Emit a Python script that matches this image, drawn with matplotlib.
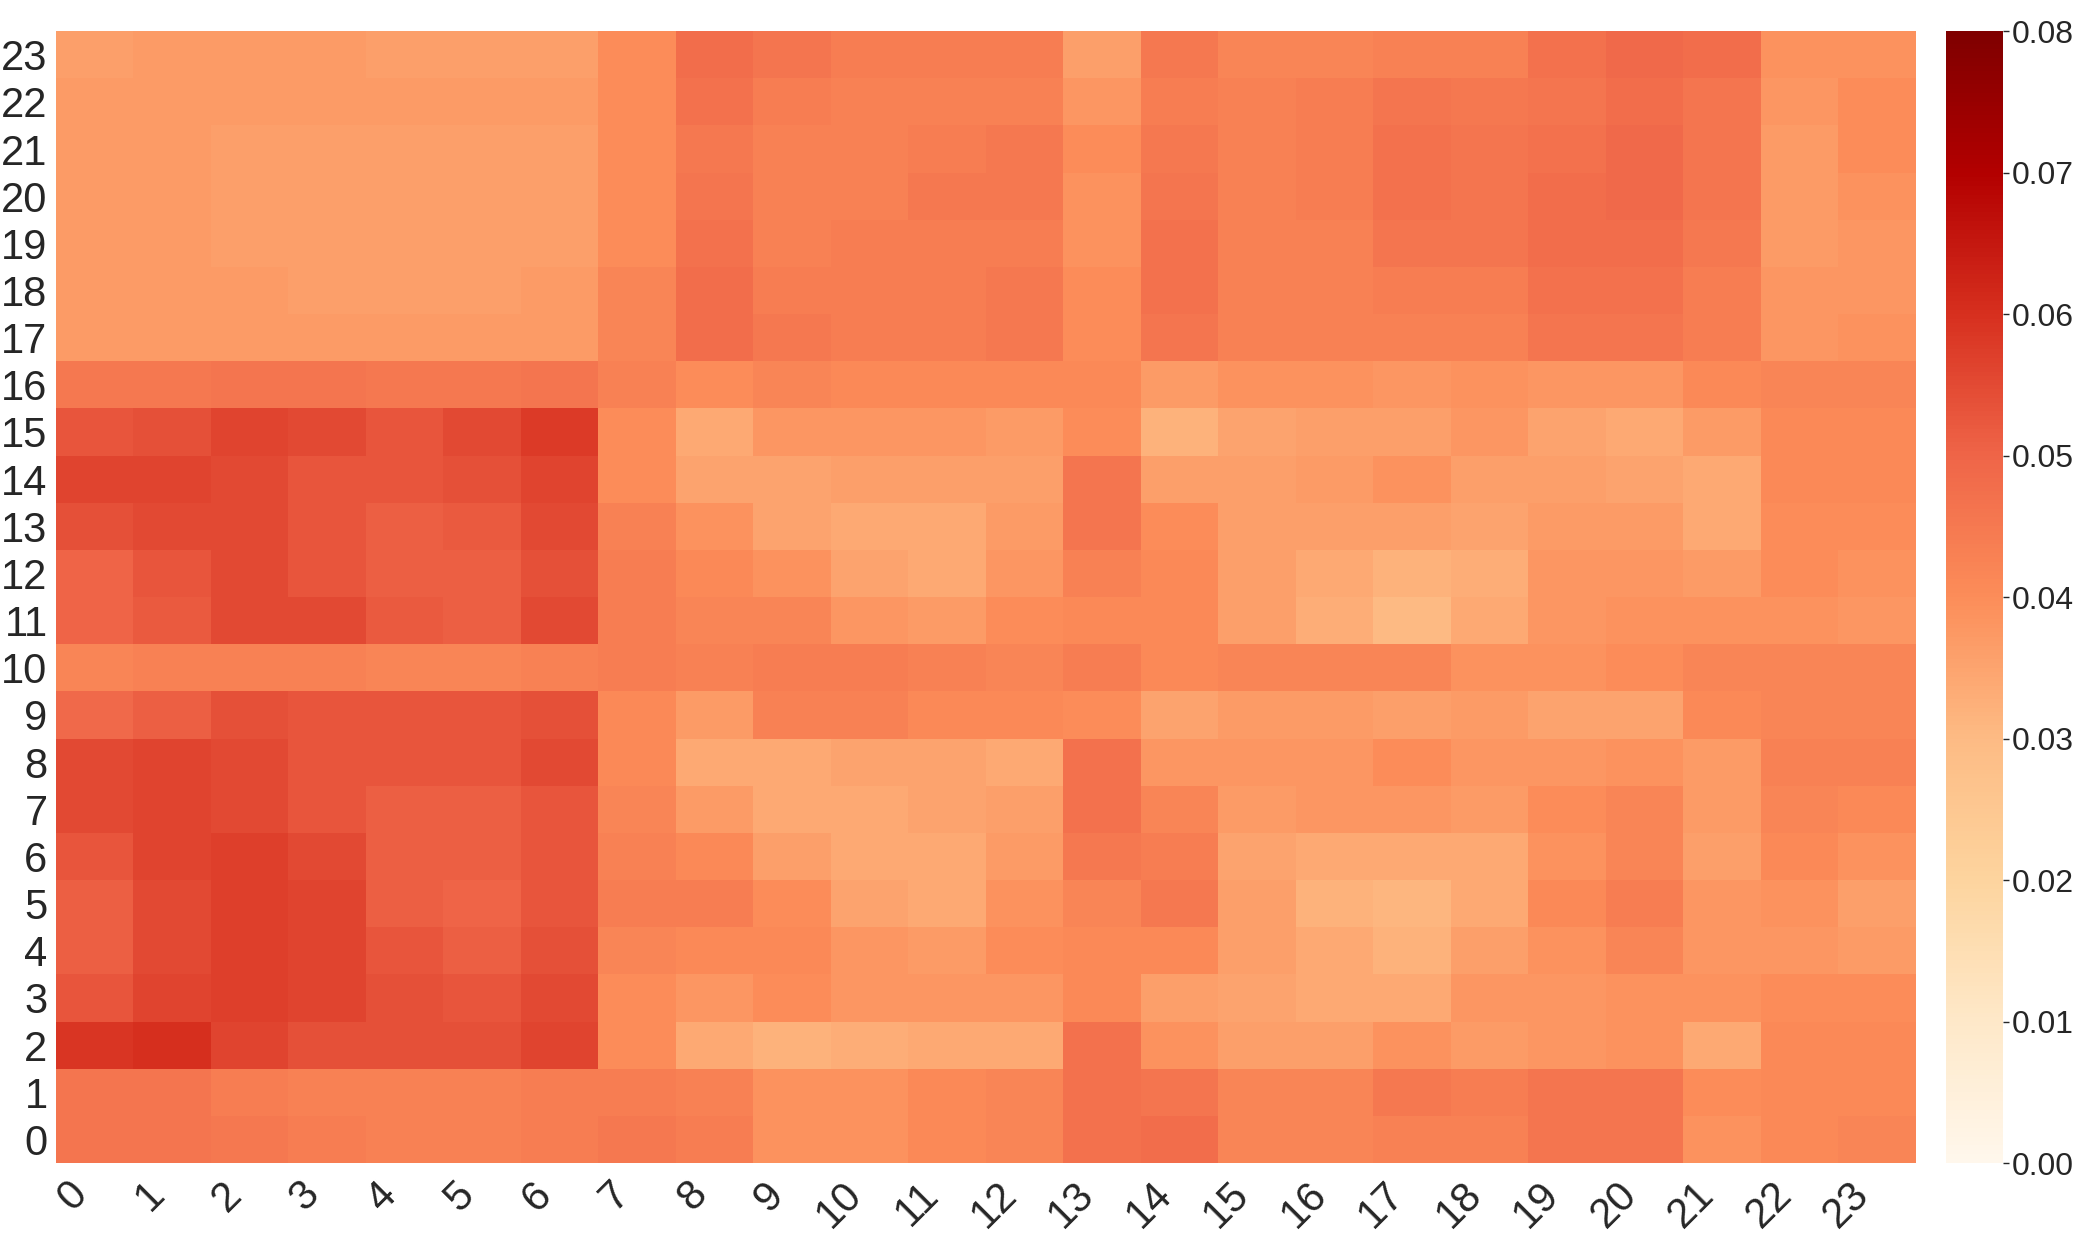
import numpy as np
import matplotlib
matplotlib.use("Agg")
import matplotlib.pyplot as plt

plt.rcParams["font.family"] = ["Liberation Sans", "DejaVu Sans"]

# ============================================
# Data: one list per row (row 0 = bottom), 24 columns each
# ============================================

x_labels = [str(i) for i in range(24)]
y_labels = [str(i) for i in range(24)]

r0 = [0.046, 0.046, 0.045, 0.044, 0.043, 0.043, 0.044, 0.045, 0.044, 0.039, 0.039, 0.041,
      0.042, 0.047, 0.048, 0.042, 0.042, 0.043, 0.043, 0.046, 0.046, 0.039, 0.041, 0.042]
r1 = [0.046, 0.046, 0.044, 0.043, 0.043, 0.043, 0.044, 0.044, 0.043, 0.039, 0.039, 0.041,
      0.042, 0.047, 0.046, 0.042, 0.042, 0.045, 0.044, 0.046, 0.046, 0.040, 0.041, 0.041]
r2 = [0.059, 0.060, 0.056, 0.054, 0.054, 0.054, 0.056, 0.040, 0.034, 0.032, 0.033, 0.034,
      0.034, 0.047, 0.039, 0.036, 0.036, 0.039, 0.037, 0.038, 0.039, 0.034, 0.041, 0.041]
r3 = [0.053, 0.056, 0.057, 0.056, 0.054, 0.053, 0.055, 0.040, 0.038, 0.040, 0.038, 0.038,
      0.038, 0.041, 0.036, 0.035, 0.034, 0.034, 0.038, 0.038, 0.039, 0.039, 0.040, 0.040]
r4 = [0.051, 0.055, 0.057, 0.056, 0.053, 0.051, 0.054, 0.042, 0.041, 0.041, 0.038, 0.037,
      0.040, 0.041, 0.041, 0.036, 0.034, 0.032, 0.036, 0.039, 0.042, 0.038, 0.038, 0.037]
r5 = [0.051, 0.055, 0.057, 0.056, 0.051, 0.050, 0.053, 0.044, 0.044, 0.040, 0.035, 0.034,
      0.039, 0.042, 0.045, 0.036, 0.032, 0.031, 0.034, 0.041, 0.044, 0.038, 0.039, 0.036]
r6 = [0.053, 0.056, 0.057, 0.055, 0.051, 0.051, 0.053, 0.043, 0.041, 0.036, 0.034, 0.034,
      0.037, 0.045, 0.044, 0.035, 0.034, 0.034, 0.034, 0.039, 0.042, 0.036, 0.041, 0.039]
r7 = [0.055, 0.056, 0.055, 0.053, 0.051, 0.051, 0.053, 0.042, 0.037, 0.034, 0.034, 0.035,
      0.036, 0.047, 0.042, 0.037, 0.038, 0.038, 0.037, 0.040, 0.042, 0.037, 0.042, 0.041]
r8 = [0.055, 0.056, 0.055, 0.053, 0.053, 0.053, 0.055, 0.041, 0.034, 0.034, 0.035, 0.035,
      0.034, 0.047, 0.038, 0.038, 0.038, 0.040, 0.038, 0.038, 0.039, 0.037, 0.043, 0.043]
r9 = [0.049, 0.051, 0.054, 0.053, 0.053, 0.053, 0.054, 0.041, 0.037, 0.043, 0.043, 0.041,
      0.041, 0.040, 0.035, 0.037, 0.037, 0.036, 0.037, 0.035, 0.035, 0.041, 0.042, 0.042]
r10 = [0.042, 0.043, 0.043, 0.043, 0.042, 0.042, 0.043, 0.044, 0.043, 0.044, 0.044, 0.043,
       0.042, 0.044, 0.041, 0.042, 0.042, 0.042, 0.039, 0.039, 0.040, 0.042, 0.042, 0.042]
r11 = [0.050, 0.052, 0.055, 0.055, 0.052, 0.051, 0.055, 0.044, 0.042, 0.042, 0.038, 0.037,
       0.040, 0.041, 0.041, 0.036, 0.033, 0.030, 0.034, 0.038, 0.039, 0.039, 0.039, 0.038]
r12 = [0.050, 0.053, 0.055, 0.053, 0.051, 0.051, 0.054, 0.044, 0.041, 0.039, 0.035, 0.034,
       0.038, 0.043, 0.041, 0.036, 0.034, 0.032, 0.033, 0.038, 0.038, 0.037, 0.040, 0.039]
r13 = [0.054, 0.055, 0.055, 0.053, 0.051, 0.052, 0.055, 0.043, 0.039, 0.035, 0.034, 0.034,
       0.037, 0.046, 0.040, 0.036, 0.036, 0.036, 0.035, 0.037, 0.037, 0.034, 0.040, 0.040]
r14 = [0.056, 0.056, 0.055, 0.053, 0.053, 0.054, 0.056, 0.040, 0.035, 0.035, 0.036, 0.036,
       0.036, 0.046, 0.036, 0.036, 0.037, 0.039, 0.036, 0.036, 0.035, 0.034, 0.041, 0.041]
r15 = [0.053, 0.054, 0.056, 0.055, 0.053, 0.055, 0.058, 0.040, 0.034, 0.038, 0.038, 0.038,
       0.037, 0.040, 0.032, 0.035, 0.036, 0.036, 0.038, 0.035, 0.034, 0.037, 0.041, 0.041]
r16 = [0.045, 0.045, 0.046, 0.046, 0.045, 0.045, 0.046, 0.043, 0.040, 0.042, 0.041, 0.041,
       0.041, 0.041, 0.037, 0.039, 0.039, 0.038, 0.039, 0.038, 0.038, 0.041, 0.042, 0.042]
r17 = [0.037, 0.037, 0.037, 0.037, 0.037, 0.037, 0.037, 0.042, 0.048, 0.045, 0.044, 0.044,
       0.045, 0.040, 0.046, 0.043, 0.043, 0.043, 0.043, 0.046, 0.046, 0.044, 0.038, 0.039]
r18 = [0.037, 0.037, 0.037, 0.036, 0.036, 0.036, 0.037, 0.042, 0.048, 0.044, 0.044, 0.044,
       0.045, 0.040, 0.047, 0.043, 0.043, 0.044, 0.044, 0.047, 0.047, 0.044, 0.038, 0.038]
r19 = [0.037, 0.037, 0.036, 0.036, 0.036, 0.036, 0.036, 0.040, 0.047, 0.043, 0.044, 0.044,
       0.044, 0.039, 0.047, 0.043, 0.043, 0.046, 0.046, 0.048, 0.048, 0.045, 0.037, 0.038]
r20 = [0.037, 0.037, 0.036, 0.036, 0.036, 0.036, 0.036, 0.040, 0.046, 0.043, 0.043, 0.045,
       0.045, 0.039, 0.046, 0.043, 0.044, 0.047, 0.046, 0.048, 0.049, 0.046, 0.037, 0.039]
r21 = [0.037, 0.037, 0.036, 0.036, 0.036, 0.036, 0.036, 0.040, 0.045, 0.043, 0.043, 0.044,
       0.045, 0.040, 0.045, 0.043, 0.044, 0.047, 0.046, 0.047, 0.049, 0.046, 0.037, 0.040]
r22 = [0.037, 0.037, 0.037, 0.037, 0.037, 0.037, 0.037, 0.040, 0.047, 0.044, 0.043, 0.043,
       0.043, 0.038, 0.044, 0.043, 0.044, 0.046, 0.045, 0.046, 0.048, 0.046, 0.038, 0.040]
r23 = [0.036, 0.037, 0.037, 0.037, 0.036, 0.036, 0.036, 0.040, 0.048, 0.046, 0.044, 0.044,
       0.044, 0.036, 0.045, 0.042, 0.042, 0.043, 0.043, 0.047, 0.049, 0.048, 0.039, 0.039]

grid = np.array([r0, r1, r2, r3, r4, r5, r6, r7, r8, r9, r10, r11,
                 r12, r13, r14, r15, r16, r17, r18, r19, r20, r21, r22, r23])

# ============================================
# Plot
# ============================================

fig = plt.figure(figsize=(20.8, 12.34), dpi=100)
ax = fig.add_axes([0.0269, 0.0575, 0.8942, 0.9173])
cax = fig.add_axes([0.9356, 0.0575, 0.0274, 0.9173])

mesh = ax.pcolormesh(grid, cmap="OrRd", vmin=0, vmax=0.08)

ax.set_xticks(np.arange(24) + 0.5)
ax.set_xticklabels(x_labels, rotation=45, ha="right", fontsize=30)
ax.set_yticks(np.arange(24) + 0.5)
ax.set_yticklabels(y_labels, fontsize=30)
ax.tick_params(axis="y", length=0, pad=6, labelcolor="#262626")
ax.tick_params(axis="x", length=0, pad=8, labelcolor="#262626")
for s in ax.spines.values():
    s.set_visible(False)

cb = fig.colorbar(mesh, cax=cax)
cb.set_ticks([0, 0.01, 0.02, 0.03, 0.04, 0.05, 0.06, 0.07, 0.08])
cb.set_ticklabels(["%.2f" % t for t in cb.get_ticks()])
cb.ax.tick_params(labelsize=23, length=4, width=1, pad=2, colors="#262626")
cb.outline.set_visible(False)

fig.savefig("out.png")
